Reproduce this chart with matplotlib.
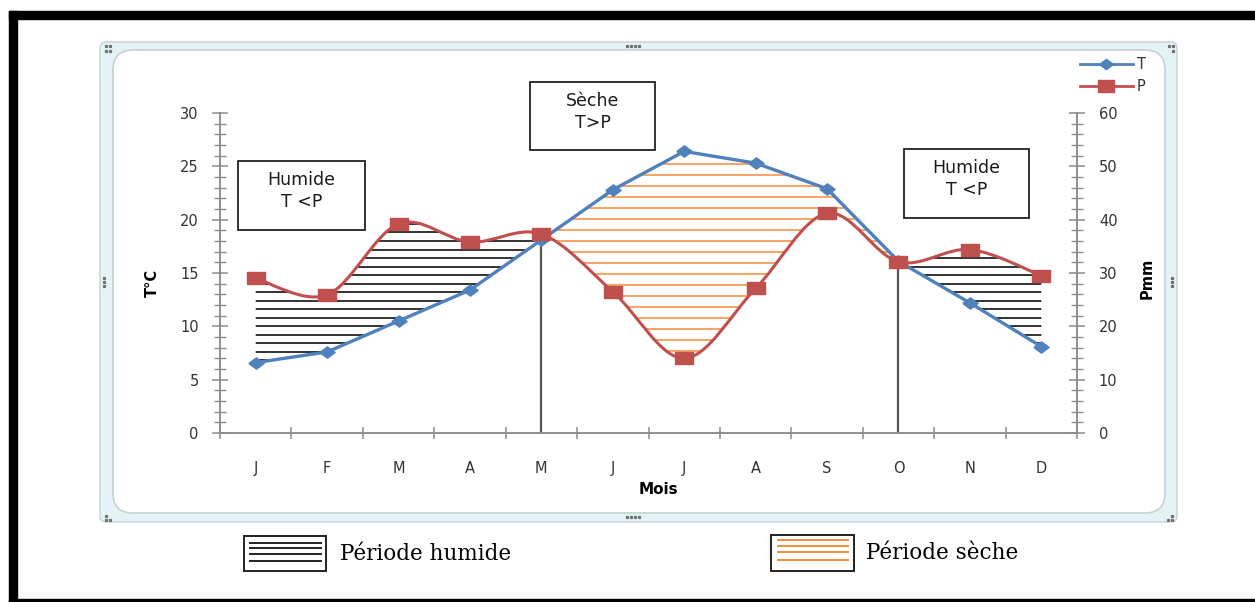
import numpy as np
import matplotlib.pyplot as plt
from matplotlib.path import Path
from matplotlib.patches import PathPatch, Rectangle, FancyBboxPatch
from matplotlib.lines import Line2D
from matplotlib.transforms import Affine2D

months = ['J', 'F', 'M', 'A', 'M', 'J', 'J', 'A', 'S', 'O', 'N', 'D']
temp = [6.6, 7.6, 10.5, 13.4, 18.1, 22.8, 26.4, 25.3, 22.9, 16.1, 12.2, 8.1]
precip = [29.0, 25.9, 39.2, 35.8, 37.3, 26.5, 14.0, 27.1, 41.2, 32.1, 34.4, 29.5]
# months where the curves cross (start/end of the dry season)
dry_start, dry_end = 4, 9

BLUE = '#4F81BD'
RED = '#C0504D'
ORANGE = '#F98A3A'
AXIS = '#8C8C8C'
TXT = '#333333'

W, H = 1255, 602
fig = plt.figure(figsize=(W / 100, H / 100), dpi=100)
# pixel coordinates, origin at top-left
px = Affine2D().scale(1 / W, -1 / H).translate(0, 1) + fig.transFigure


def seg_ctrl(x, y, i):
    # catmull-rom style bezier controls for segment i -> i+1
    n = len(x)
    im, ip = max(i - 1, 0), min(i + 2, n - 1)
    c1 = (x[i] + (x[i + 1] - x[im]) / 6, y[i] + (y[i + 1] - y[im]) / 6)
    c2 = (x[i + 1] - (x[ip] - x[i]) / 6, y[i + 1] - (y[ip] - y[i]) / 6)
    return c1, c2


def smooth_path(x, y, a, b):
    verts = [(x[a], y[a])]
    codes = [Path.MOVETO]
    for i in range(a, b):
        c1, c2 = seg_ctrl(x, y, i)
        verts += [c1, c2, (x[i + 1], y[i + 1])]
        codes += [Path.CURVE4] * 3
    return verts, codes


xs = np.arange(len(months), dtype=float)
t = np.array(temp)
p_t = np.array(precip) / 2.0   # precipitation on the temperature scale (P = 2T)


def humid_region(a, b):
    verts, codes = smooth_path(xs, p_t, a, b)
    for i in range(b, a - 1, -1):
        verts.append((xs[i], t[i]))
        codes.append(Path.LINETO)
    verts.append((0, 0))
    codes.append(Path.CLOSEPOLY)
    return Path(verts, codes)


def dry_region(a, b):
    verts = [(xs[a], t[a])]
    codes = [Path.MOVETO]
    for i in range(a + 1, b + 1):
        verts.append((xs[i], t[i]))
        codes.append(Path.LINETO)
    verts.append((xs[b], p_t[b]))
    codes.append(Path.LINETO)
    for i in range(b - 1, a - 1, -1):
        c1, c2 = seg_ctrl(xs, p_t, i)
        verts += [c2, c1, (xs[i], p_t[i])]
        codes += [Path.CURVE4] * 3
    verts.append((0, 0))
    codes.append(Path.CLOSEPOLY)
    return Path(verts, codes)


# ---- outer black border and chart frame
for (x0, y0, w, h) in [(9, 11, 1246, 8), (9, 11, 8, 591), (9, 599, 1246, 3)]:
    fig.add_artist(Rectangle((x0, y0), w, h, transform=px, color='black', zorder=-10))

fig.add_artist(FancyBboxPatch((100, 42), 1077, 480, boxstyle='round,pad=0,rounding_size=6',
                              transform=px, facecolor='#E3F3F6', edgecolor='#C4D2D6',
                              lw=1.0, zorder=-9))
fig.add_artist(FancyBboxPatch((113, 50), 1052, 463, boxstyle='round,pad=0,rounding_size=20',
                              transform=px, facecolor='white', edgecolor='#C4D2D6',
                              lw=1.2, zorder=-8))
# selection handles
handles_xy = [(106, 46), (110, 46), (106, 51), (110, 51),
              (1169, 46), (1173, 46), (1173, 51),
              (106, 516), (106, 520), (110, 520),
              (1168, 520), (1172, 520), (1172, 516),
              (627, 46), (631, 46), (635, 46), (639, 46),
              (627, 517), (631, 517), (635, 517), (639, 517),
              (104, 278), (104, 282), (104, 286),
              (1172, 278), (1172, 282), (1172, 286)]
hx, hy = zip(*handles_xy)
fig.add_artist(Line2D(hx, hy, transform=px, ls='none', marker='s', ms=1.3,
                      color='#707070', zorder=-7))

# ---- axes
ax = fig.add_axes([220 / W, (H - 433) / H, (1077 - 220) / W, (433 - 113) / H])
ax.set_facecolor('none')
ax.set_xlim(-0.5, 11.5)
ax.set_ylim(0, 30)
ax2 = ax.twinx()
ax2.set_ylim(0, 60)

for a in (ax, ax2):
    a.spines['top'].set_visible(False)
    for s in ('left', 'right', 'bottom'):
        a.spines[s].set_color(AXIS)
        a.spines[s].set_linewidth(1.1)

ax.set_yticks(np.arange(0, 31, 5))
ax.set_yticks(np.arange(0, 31, 1), minor=True)
ax2.set_yticks(np.arange(0, 61, 10))
ax2.set_yticks(np.arange(0, 61, 2), minor=True)
ax.set_xticks(np.arange(-0.5, 12, 1))
ax.set_xticklabels([])
ax.set_xticks(xs, minor=True)
ax.set_xticklabels(months, minor=True)

ax.tick_params(axis='y', which='major', direction='inout', length=11.5, width=1.1,
               color=AXIS, labelsize=10.5, labelcolor=TXT, pad=9.5)
ax.tick_params(axis='y', which='minor', direction='inout', length=8.5, width=1.0, color=AXIS)
ax2.tick_params(axis='y', which='major', direction='inout', length=11.5, width=1.1,
                color=AXIS, labelsize=10.5, labelcolor=TXT, pad=10)
ax2.tick_params(axis='y', which='minor', direction='inout', length=8.5, width=1.0, color=AXIS)
ax.tick_params(axis='x', which='major', direction='inout', length=8, width=1.1, color=AXIS)
ax.tick_params(axis='x', which='minor', length=0, labelsize=10.5, labelcolor=TXT, pad=20)

# ---- hatched periods
humid_l = PathPatch(humid_region(0, dry_start), facecolor='none', edgecolor='none')
humid_r = PathPatch(humid_region(dry_end, len(xs) - 1), facecolor='none', edgecolor='none')
dry = PathPatch(dry_region(dry_start, dry_end), facecolor='none', edgecolor='none')
for patch in (humid_l, humid_r, dry):
    ax.add_patch(patch)

for patch in (humid_l, humid_r):
    hl = ax.hlines(np.arange(0.4, 30, 0.8), -0.5, 11.5, color='#111111', lw=1.2, zorder=1)
    hl.set_clip_path(patch)
dl = ax.hlines(np.arange(0.5, 30, 1.03), -0.5, 11.5, color=ORANGE, lw=1.1, zorder=1)
dl.set_clip_path(dry)

# separators at the start and end of the dry season
ax.vlines([xs[dry_start], xs[dry_end]], 0, [p_t[dry_start], p_t[dry_end]],
          color='#555555', lw=1.6, zorder=2)

# ---- series
diamond = [(-1.35, 0), (0, -1), (1.35, 0), (0, 1), (-1.35, 0)]
square = [(-1.4, -1), (1.4, -1), (1.4, 1), (-1.4, 1), (-1.4, -1)]

ax.plot(xs, temp, color=BLUE, lw=2.4, marker=diamond, ms=11, zorder=3)

pv, pc = smooth_path(xs, np.array(precip), 0, len(xs) - 1)
ax2.add_patch(PathPatch(Path(pv, pc), facecolor='none', edgecolor=RED, lw=2.2, zorder=3))
ax2.plot(xs, precip, ls='none', marker=square, ms=13, color=RED, zorder=4)

leg_handles = [Line2D([], [], color=BLUE, lw=2.0, marker=diamond, ms=10),
               Line2D([], [], color=RED, lw=2.0, marker=square, ms=12)]
leg = fig.legend(leg_handles, ['T', 'P'], loc='upper left',
                 bbox_to_anchor=(1067 / W, 1 - 44 / H), frameon=False,
                 fontsize=10.5, handlelength=3.6, handletextpad=0.3, labelspacing=0.45)
for txt in leg.get_texts():
    txt.set_color(TXT)

# ---- axis titles
fig.text(152, 283, 'T°C', transform=px, rotation=90, ha='center', va='center',
         fontsize=10.5, fontweight='bold', color='black')
fig.text(1147, 278, 'Pmm', transform=px, rotation=90, ha='center', va='center',
         fontsize=10.5, fontweight='bold', color='black')
fig.text(658, 490, 'Mois', transform=px, ha='center', va='center',
         fontsize=11, fontweight='bold', color='black')

# ---- period boxes
boxes = [((238, 161, 127, 69), 'Humide\nT <P'),
         ((530, 82, 125, 68), 'Sèche\nT>P'),
         ((904, 149, 125, 69), 'Humide\nT <P')]
for (bx, by, bw, bh), label in boxes:
    fig.add_artist(Rectangle((bx, by), bw, bh, transform=px, facecolor='white',
                             edgecolor='#222222', lw=1.3, zorder=5))
    fig.text(bx + bw / 2, by + 30, label, transform=px, ha='center', va='center',
             fontsize=12.5, color='#1a1a1a', linespacing=1.25, zorder=6)

# ---- period key below the chart
keys = [((244, 536, 82, 35), '#222222', [543, 548, 554, 561], (250, 321), 'Période humide', 340),
        ((771, 535, 83, 36), ORANGE, [540, 546, 552, 560], (778, 848), 'Période sèche', 866)]
for (bx, by, bw, bh), col, rows, (lx0, lx1), label, tx in keys:
    fig.add_artist(Rectangle((bx, by), bw, bh, transform=px, facecolor='white',
                             edgecolor='#222222', lw=1.4, zorder=5))
    for ry in rows:
        fig.add_artist(Line2D([lx0, lx1], [ry, ry], transform=px, color=col, lw=1.4, zorder=6))
    fig.text(tx, by + bh / 2, label, transform=px, ha='left', va='center',
             fontsize=15.5, family='DejaVu Serif', color='black')

fig.savefig('out.png', dpi=100)
